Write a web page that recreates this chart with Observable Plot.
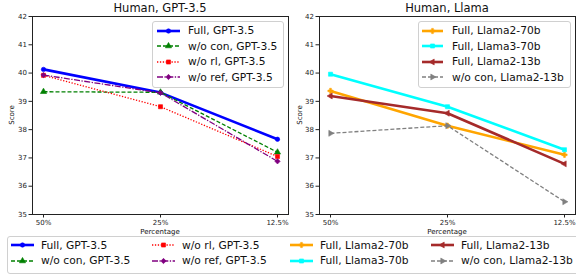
<!DOCTYPE html>
<html><head><meta charset="utf-8">
<script src="https://cdn.jsdelivr.net/npm/d3@7"></script>
<script src="https://cdn.jsdelivr.net/npm/@observablehq/plot@0.6"></script>
<style>
body{margin:0;background:#fff;font-family:"DejaVu Sans",sans-serif;color:#111;}
#root{position:relative;width:576px;height:275px;overflow:hidden;background:#fff;}
.abs{position:absolute;white-space:nowrap;}
.leg{position:absolute;border:1px solid #d0d0d0;border-radius:3px;background:rgba(255,255,255,0.85);box-sizing:border-box;}
.item{position:absolute;display:flex;align-items:center;font-size:10.7px;white-space:nowrap;}
.item svg{display:block;}
</style></head><body><div id="root"></div>
<script>
// ---- data ----
const categories = ["50%", "25%", "12.5%"];
const yTicks = [35, 36, 37, 38, 39, 40, 41, 42];
const gptSeries = ["Full, GPT-3.5", "w/o con, GPT-3.5", "w/o rl, GPT-3.5", "w/o ref, GPT-3.5"];
const fullGPT = [40.13, 39.31, 37.66];
const woConGPT = [39.34, 39.32, 37.20];
const woRlGPT = [39.92, 38.81, 37.05];
const woRefGPT = [39.93, 39.30, 36.88];
const llamaSeries = ["Full, Llama2-70b", "Full, Llama3-70b", "Full, Llama2-13b", "w/o con, Llama2-13b"];
const fullL270 = [39.37, 38.14, 37.11];
const fullL370 = [39.96, 38.81, 37.29];
const fullL213 = [39.19, 38.58, 36.79];
const woConL213 = [37.87, 38.14, 35.45];

// ---- custom symbols ----
const triLeft = {draw(ctx, size) {
  const y = -Math.sqrt(size / (Math.sqrt(3) * 3)), s = Math.sqrt(3);
  ctx.moveTo(2 * y, 0); ctx.lineTo(-y, -s * y); ctx.lineTo(-y, s * y); ctx.closePath();
}};
const triRight = {draw(ctx, size) {
  const y = -Math.sqrt(size / (Math.sqrt(3) * 3)), s = Math.sqrt(3);
  ctx.moveTo(-2 * y, 0); ctx.lineTo(y, -s * y); ctx.lineTo(y, s * y); ctx.closePath();
}};

// ---- styles ----
const styles = {
  "Full, GPT-3.5": {color: "#0000ff", width: 2.6, dash: null, symbol: d3.symbolCircle, r: 2.2},
  "w/o con, GPT-3.5": {color: "#008000", width: 1.3, dash: "4,2", symbol: d3.symbolTriangle, r: 2.3},
  "w/o rl, GPT-3.5": {color: "#ff0000", width: 1.3, dash: "1.3,1.6", symbol: d3.symbolSquare, r: 2.3},
  "w/o ref, GPT-3.5": {color: "#800080", width: 1.3, dash: "6,1.5,1.3,1.5", symbol: d3.symbolDiamond2, r: 2.4},
  "Full, Llama2-70b": {color: "#ffa500", width: 2.6, dash: null, symbol: d3.symbolCross, r: 2.2},
  "Full, Llama3-70b": {color: "#00ffff", width: 2.6, dash: null, symbol: d3.symbolSquare, r: 2.3},
  "Full, Llama2-13b": {color: "#a52a2a", width: 2.6, dash: null, symbol: triLeft, r: 2.2},
  "w/o con, Llama2-13b": {color: "#808080", width: 1.3, dash: "4,2", symbol: triRight, r: 2.2}
};

const root = document.getElementById("root");

function panel(names, values, opts) {
  const data = names.flatMap((n, i) => categories.map((c, j) => ({series: n, cat: c, value: values[i][j]})));
  const marks = [];
  names.forEach(n => {
    const s = styles[n];
    const d = data.filter(x => x.series === n);
    marks.push(Plot.line(d, {x: "cat", y: "value", stroke: s.color, strokeWidth: s.width, strokeDasharray: s.dash, strokeLinecap: "butt"}));
    marks.push(Plot.dot(d, {x: "cat", y: "value", symbol: s.symbol, r: s.r, fill: s.color, stroke: s.color, strokeWidth: 0.6}));
  });
  marks.push(Plot.frame({stroke: "#222", strokeWidth: 1}));
  marks.push(Plot.axisX({tickSize: 3.5, tickPadding: 2, fontSize: 7, label: null}));
  marks.push(Plot.axisY({ticks: yTicks, tickFormat: d3.format("d"), tickSize: 3.5, tickPadding: 2, fontSize: 7, label: null}));
  const svg = Plot.plot({
    width: opts.width, height: 275,
    marginLeft: opts.marginLeft, marginRight: opts.marginRight, marginTop: 16, marginBottom: 61,
    x: {type: "point", domain: categories, padding: 0.094, axis: null},
    y: {domain: [35, 42], axis: null},
    style: {background: "transparent", color: "#222", fontFamily: "DejaVu Sans, sans-serif", overflow: "visible"},
    marks
  });
  svg.style.position = "absolute";
  svg.style.left = opts.left + "px";
  svg.style.top = "0px";
  root.appendChild(svg);
}

panel(gptSeries, [fullGPT, woConGPT, woRlGPT, woRefGPT], {left: 0, width: 290, marginLeft: 32, marginRight: 2});
panel(llamaSeries, [fullL270, fullL370, fullL213, woConL213], {left: 288, width: 288, marginLeft: 31, marginRight: 1});

function text(str, x, y, size, extra) {
  const el = document.createElement("div");
  el.className = "abs";
  el.textContent = str;
  el.style.fontSize = size + "px";
  el.style.left = x + "px";
  el.style.top = y + "px";
  el.style.transform = extra || "translate(-50%,-50%)";
  root.appendChild(el);
}
text("Human, GPT-3.5", 160, 8, 11.5);
text("Human, Llama", 447, 8, 11.5);
text("Score", 12, 115, 7, "translate(-50%,-50%) rotate(-90deg)");
text("Score", 300, 115, 7, "translate(-50%,-50%) rotate(-90deg)");
text("Percentage", 160, 232, 7);
text("Percentage", 447, 232, 7);

function sample(name, len) {
  const s = styles[name];
  const ns = "http://www.w3.org/2000/svg";
  const svg = document.createElementNS(ns, "svg");
  svg.setAttribute("width", len); svg.setAttribute("height", 10);
  const line = document.createElementNS(ns, "line");
  line.setAttribute("x1", 0); line.setAttribute("x2", len);
  line.setAttribute("y1", 5); line.setAttribute("y2", 5);
  line.setAttribute("stroke", s.color); line.setAttribute("stroke-width", s.width);
  if (s.dash) line.setAttribute("stroke-dasharray", s.dash);
  svg.appendChild(line);
  const p = document.createElementNS(ns, "path");
  p.setAttribute("d", d3.symbol(s.symbol, Math.PI * s.r * s.r)());
  p.setAttribute("transform", `translate(${len / 2},5)`);
  p.setAttribute("fill", s.color); p.setAttribute("stroke", s.color); p.setAttribute("stroke-width", 0.6);
  svg.appendChild(p);
  return svg;
}
function legendItem(name, x, y, len, gap) {
  const el = document.createElement("div");
  el.className = "item";
  el.style.left = x + "px"; el.style.top = (y - 7) + "px"; el.style.height = "14px";
  const sv = sample(name, len);
  sv.style.marginRight = gap + "px";
  el.appendChild(sv);
  const t = document.createElement("span");
  t.textContent = name;
  el.appendChild(t);
  root.appendChild(el);
}
function box(x, y, w, h) {
  const b = document.createElement("div");
  b.className = "leg";
  b.style.left = x + "px"; b.style.top = y + "px"; b.style.width = w + "px"; b.style.height = h + "px";
  root.appendChild(b);
}
// inner legends
box(152, 21, 132, 67);
gptSeries.forEach((n, i) => legendItem(n, 157, 30.7 + i * 15.5, 23, 8));
box(418, 21, 153, 67);
llamaSeries.forEach((n, i) => legendItem(n, 422, 30.7 + i * 15.5, 21, 9));
// bottom legend
box(7, 236, 575, 38);
const allSeries = [...gptSeries, ...llamaSeries];
const colX = [11, 152, 290, 431];
allSeries.forEach((n, i) => legendItem(n, colX[Math.floor(i / 2)], 245 + (i % 2) * 15.5, 23, 7));
</script></body></html>
